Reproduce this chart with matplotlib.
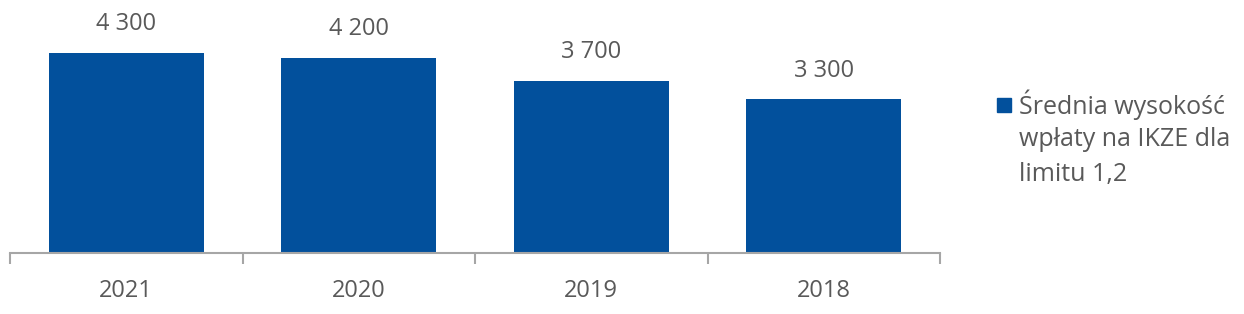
import matplotlib.pyplot as plt
from matplotlib.patches import Rectangle
import numpy as np

plt.rcParams['font.family'] = ['Open Sans', 'DejaVu Sans']

years = ['2021', '2020', '2019', '2018']
values = [4300, 4200, 3700, 3300]
labels = ['4 300', '4 200', '3 700', '3 300']
series_name = 'Średnia wysokość\nwpłaty na IKZE dla\nlimitu 1,2'

bar_color = '#02509C'
text_color = '#595959'
axis_color = '#A6A6A6'

W, H = 1244, 314
fig = plt.figure(figsize=(W / 100, H / 100), dpi=100)
ax = fig.add_axes([10/W, 61/H, 930/W, 232.6/H])

x = np.arange(len(years))
ax.bar(x, values, width=0.667, color=bar_color)

for xi, v, lab in zip(x, values, labels):
    ax.annotate(lab, (xi, v), xytext=(0, 12), textcoords='offset points',
                ha='center', va='bottom', fontsize=17, color=text_color)

ax.set_xlim(-0.5, len(years) - 0.5)
ax.set_ylim(0, 5000)
ax.set_xticks(x)
ax.set_xticklabels(years, fontsize=17, color=text_color)
ax.set_xticks(np.arange(len(years) + 1) - 0.5, minor=True)
ax.tick_params(axis='x', which='major', length=0, pad=19)
ax.tick_params(axis='x', which='minor', length=8, width=1.5, color=axis_color)
ax.set_yticks([])
for s in ['top', 'right', 'left']:
    ax.spines[s].set_visible(False)
ax.spines['bottom'].set_color(axis_color)
ax.spines['bottom'].set_linewidth(1.5)

# legend: square next to the first line
fig.patches.append(Rectangle((997/W, 1 - 112/H), 14/W, 14/H,
                             transform=fig.transFigure, color=bar_color))
for i, line in enumerate(series_name.split('\n')):
    fig.text(1019/W, 1 - (105 + 34.5 * i)/H, line, fontsize=18,
             color=text_color, va='center', ha='left')

fig.savefig('out.png', dpi=100)
